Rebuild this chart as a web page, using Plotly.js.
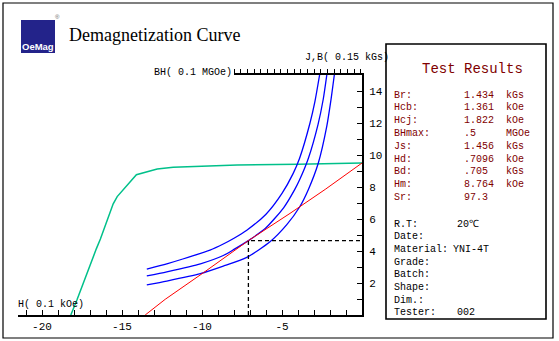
<!DOCTYPE html>
<html>
<head>
<meta charset="utf-8">
<script src="https://cdn.plot.ly/plotly-3.0.1.min.js"></script>
<style>
html,body{margin:0;padding:0;background:#fff;}
#chart{width:559px;height:341px;}
</style>
</head>
<body>
<div id="chart"></div>
<script>
// ---- data (H in 0.1 kOe, J/B in 0.15 kGs) ----
const greenH = [-18.2, -17.8, -16.6, -16.35, -15.55, -15.3, -14.1, -12.8, -11.8, -10.0, -7.8, -4.0, -1.1, 0];
const greenJ = [0, 0.98, 4.15, 4.75, 6.95, 7.4, 8.77, 9.12, 9.23, 9.3, 9.37, 9.42, 9.48, 9.5];

const redH = [-13.55, -12.3, -9.9, -7.1, -4.5, -2.3, 0];
const redB = [0, 0.98, 2.65, 4.65, 6.35, 7.85, 9.5];

const blueOuterH = [-13.45, -12.2, -11.2, -9.5, -8.67, -8.0, -7.2, -6.0, -5.0, -4.3, -3.9, -3.25, -2.95, -2.65];
const blueOuterB = [2.87, 3.2, 3.5, 4.06, 4.44, 4.8, 5.3, 6.3, 7.6, 8.85, 9.8, 12.0, 13.3, 15.0];

const blueMidH = [-13.45, -12.2, -10.1, -8.67, -8.0, -7.1, -6.0, -4.9, -4.2, -3.9, -3.35, -2.75, -2.42, -2.2];
const blueMidB = [2.44, 2.7, 3.2, 3.72, 4.1, 4.65, 5.45, 6.7, 7.85, 8.45, 9.8, 11.9, 13.5, 15.0];

const blueInnerH = [-13.45, -12.2, -10.1, -8.67, -7.2, -5.75, -4.7, -3.9, -3.35, -2.73, -2.2, -1.94, -1.73];
const blueInnerB = [1.88, 2.12, 2.58, 3.05, 3.6, 4.58, 5.65, 6.75, 7.85, 9.5, 11.8, 13.44, 15.0];

const workH = [-7.1];
const workB = [4.65];

const xTickVals = [-20, -15, -10, -5];
const yTickVals = [2, 4, 6, 8, 10, 12, 14];

const resLabels = ["Br:", "Hcb:", "Hcj:", "BHmax:", "Js:", "Hd:", "Bd:", "Hm:", "Sr:"];
const resValues = ["1.434", "1.361", "1.822", ".5", "1.456", ".7096", ".705", "8.764", "97.3"];
const resUnits  = ["kGs", "kOe", "kOe", "MGOe", "kGs", "kOe", "kGs", "kOe", ""];

const infoLabels = ["R.T:", "Date:", "Material:", "Grade:", "Batch:", "Shape:", "Dim.:", "Tester:"];
const infoValues = ["20℃", "", "YNI-4T", "", "", "", "", "002"];

// ---- layout geometry helpers (pixel -> paper) ----
const W = 559, H = 341;
const ML = 18, MR = 197, MT = 75, MB = 26;
const PW = W - ML - MR, PH = H - MT - MB;
const px = v => (v - ML) / PW;
const py = v => (H - MB - v) / PH;

const mono = "Liberation Mono, DejaVu Sans Mono, monospace";
const dark = "#800000";

const traces = [
  {x: greenH, y: greenJ, mode: "lines", line: {color: "#00c08a", width: 1.5}, hoverinfo: "skip"},
  {x: blueOuterH, y: blueOuterB, mode: "lines", line: {color: "#0000ff", width: 1.3, shape: "spline", smoothing: 0.6}, hoverinfo: "skip"},
  {x: blueMidH, y: blueMidB, mode: "lines", line: {color: "#0000ff", width: 1.3, shape: "spline", smoothing: 0.6}, hoverinfo: "skip"},
  {x: blueInnerH, y: blueInnerB, mode: "lines", line: {color: "#0000ff", width: 1.3, shape: "spline", smoothing: 0.6}, hoverinfo: "skip"},
  {x: redH, y: redB, mode: "lines", line: {color: "#ff0000", width: 1}, hoverinfo: "skip"},
  {x: [workH[0], workH[0], 0], y: [0, workB[0], workB[0]], mode: "lines",
   line: {color: "#000", width: 1.3, dash: "4px,3px"}, hoverinfo: "skip"},
  // empty trace so the top BH axis gets drawn
  {x: [], y: [], xaxis: "x2", yaxis: "y", mode: "lines", hoverinfo: "skip"}
];

const ann = [];
function addText(text, x, y, size, color, family, anchor) {
  ann.push({text: text, xref: "paper", yref: "paper", x: px(x), y: py(y),
    xanchor: anchor || "left", yanchor: "middle", showarrow: false,
    font: {size: size, color: color, family: family}});
}
addText("Demagnetization Curve", 67, 35, 18, "#000", "Liberation Serif, Times New Roman, serif");
addText("<b>OeMag</b>", 38, 47, 9.5, "#fff", "Liberation Sans, Arial, sans-serif", "center");
addText("®", 57, 17, 6, "#666", "Liberation Sans, Arial, sans-serif", "center");
addText("J,B( 0.15 kGs)", 303, 57, 10, "#000", mono);
addText("BH( 0.1 MGOe)", 152, 72, 10, "#000", mono);
addText("H( 0.1 kOe)", 16, 304, 10, "#000", mono);
addText("Test Results", 473, 69, 14, dark, mono, "center");
resLabels.forEach((l, i) => {
  const y = 95 + i * 12.8;
  addText(l, 392, y, 10, dark, mono);
  addText(resValues[i], 462, y, 10, dark, mono);
  if (resUnits[i]) addText(resUnits[i], 504, y, 10, dark, mono);
});
infoLabels.forEach((l, i) => {
  const y = 224 + i * 12.7;
  addText(l, 392, y, 10, "#000", mono);
  if (infoValues[i]) addText(infoValues[i], l === "Material:" ? 451 : 455, y, 10, "#000", mono);
});

const shapes = [
  {type: "rect", xref: "paper", yref: "paper", x0: px(3), x1: px(553), y0: py(3), y1: py(338),
   line: {color: "#000", width: 1.2}},
  {type: "rect", xref: "paper", yref: "paper", x0: px(386), x1: px(546), y0: py(44), y1: py(319),
   line: {color: "#000", width: 1.6}},
  {type: "rect", xref: "paper", yref: "paper", x0: px(21), x1: px(55), y0: py(20), y1: py(53),
   fillcolor: "#23238a", line: {width: 0}, layer: "below"}
];

const layout = {
  width: W, height: H,
  margin: {l: ML, r: MR, t: MT, b: MB, pad: 0},
  paper_bgcolor: "#fff", plot_bgcolor: "rgba(0,0,0,0)",
  showlegend: false,
  font: {family: mono, size: 10, color: "#000"},
  xaxis: {
    range: [-21.5, 0], showgrid: false, zeroline: false,
    showline: true, linecolor: "#000", linewidth: 2,
    ticks: "inside", ticklen: 5, tickwidth: 1, tickcolor: "#000",
    tickvals: xTickVals, ticktext: xTickVals.map(String),
    tickfont: {family: mono, size: 11, color: "#000"},
    minor: {dtick: 1, tick0: 0, ticks: "inside", ticklen: 5, tickcolor: "#000", showgrid: false},
    fixedrange: true
  },
  yaxis: {
    range: [0, 15], side: "right", showgrid: false, zeroline: false,
    showline: true, linecolor: "#000", linewidth: 2,
    ticks: "inside", ticklen: 5, tickwidth: 1, tickcolor: "#000",
    tickvals: yTickVals, ticktext: yTickVals.map(String),
    tickfont: {family: mono, size: 11, color: "#000"},
    ticklabelstandoff: 3,
    minor: {dtick: 1, tick0: 0, ticks: "inside", ticklen: 5, tickcolor: "#000", showgrid: false},
    fixedrange: true
  },
  xaxis2: {
    domain: [px(234), 1], anchor: "y", side: "top",
    range: [0, 19.2], dtick: 1, tick0: 0,
    showgrid: false, zeroline: false, showticklabels: false,
    showline: true, linecolor: "#000", linewidth: 2,
    ticks: "outside", ticklen: 4, tickcolor: "#000", fixedrange: true
  },
  annotations: ann,
  shapes: shapes
};

Plotly.newPlot("chart", traces, layout, {displayModeBar: false, staticPlot: true});
</script>
</body>
</html>
